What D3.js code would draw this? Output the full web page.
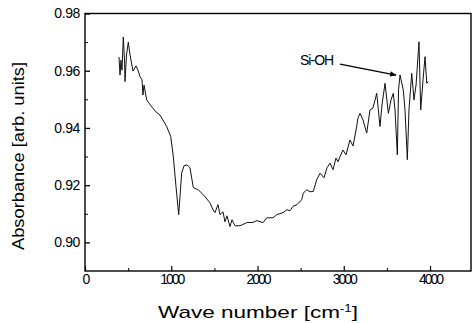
<!DOCTYPE html>
<html>
<head>
<meta charset="utf-8">
<script src="https://cdn.jsdelivr.net/npm/d3@7"></script>
<style>
  body { margin: 0; background: #fff; }
  text { font-family: Arial, "Liberation Sans", sans-serif; fill: #000; }
</style>
</head>
<body>
<svg id="chart" width="473" height="323"></svg>
<script>
// spectrum: wave number (cm-1) and absorbance
const waveNumber = [394, 406, 417, 429, 444, 458, 464, 481, 502, 522, 557, 591, 614, 638, 661, 672, 684, 715, 773, 823,
  870, 947, 994, 1024, 1055, 1086, 1121, 1148, 1183, 1217, 1256, 1314, 1391, 1449, 1484, 1507, 1542, 1565, 1600, 1623,
  1646, 1681, 1704, 1739, 1797, 1875, 1948, 1991, 2064, 2107, 2180, 2223, 2296, 2339, 2377, 2412, 2458, 2512, 2531, 2570,
  2609, 2647, 2686, 2725, 2771, 2806, 2841, 2875, 2910, 2933, 2957, 2991, 3026, 3072, 3107, 3150, 3165, 3188, 3223, 3266,
  3304, 3339, 3382, 3420, 3443, 3478, 3517, 3548, 3574, 3594, 3621, 3635, 3652, 3690, 3710, 3737, 3756, 3788, 3814, 3838,
  3872, 3892, 3919, 3942, 3962, 3980];
const absorbance = [0.9648, 0.9585, 0.9637, 0.9602, 0.9718, 0.9637, 0.9562, 0.9655, 0.9700, 0.9655, 0.9599, 0.9617, 0.9602, 0.9579, 0.9568, 0.9515, 0.9550, 0.9498, 0.9474, 0.9456,
  0.9445, 0.9405, 0.9370, 0.9300, 0.9195, 0.9097, 0.9243, 0.9268, 0.9271, 0.9261, 0.9191, 0.9184, 0.9160, 0.9138, 0.9114, 0.9104, 0.9132, 0.9097, 0.9107, 0.9072,
  0.9093, 0.9055, 0.9079, 0.9058, 0.9058, 0.9069, 0.9070, 0.9076, 0.9069, 0.9086, 0.9086, 0.9097, 0.9104, 0.9114, 0.9111, 0.9126, 0.9132, 0.9149, 0.9172, 0.9184,
  0.9177, 0.9178, 0.9219, 0.9242, 0.9226, 0.9261, 0.9277, 0.9254, 0.9295, 0.9282, 0.9300, 0.9323, 0.9306, 0.9358, 0.9337, 0.9405, 0.9435, 0.9451, 0.9428, 0.9382,
  0.9463, 0.9470, 0.9521, 0.9405, 0.9480, 0.9556, 0.9451, 0.9498, 0.9521, 0.9463, 0.9306, 0.9533, 0.9585, 0.9533, 0.9463, 0.9289, 0.9463, 0.9591, 0.9498, 0.9550,
  0.9701, 0.9463, 0.9568, 0.9649, 0.9556, 0.9562];

const xTicks = [0, 1000, 2000, 3000, 4000];
const xMinorTicks = [500, 1500, 2500, 3500];
const yTicks = [0.90, 0.92, 0.94, 0.96, 0.98];
const yMinorTicks = [0.91, 0.93, 0.95, 0.97];

// annotation: label position and arrow (data units)
const noteText = "Si-OH";
const notePos = [2493, 0.962];
const arrowFrom = [2956, 0.9623];
const arrowTo = [3606, 0.9585];

const svg = d3.select("#chart");
const plotLeft = 85, plotRight = 471, plotTop = 13.5, plotBottom = 271;

const x = d3.scaleLinear().domain([0, 4475]).range([plotLeft, plotRight]);
const y = d3.scaleLinear().domain([0.89, 0.98]).range([plotBottom, plotTop]);

// frame
svg.append("rect")
  .attr("x", plotLeft).attr("y", plotTop)
  .attr("width", plotRight - plotLeft).attr("height", plotBottom - plotTop)
  .attr("fill", "none").attr("stroke", "#000").attr("stroke-width", 1.4);

// left axis, ticks pointing inward
const yAxis = svg.append("g")
  .attr("transform", `translate(${plotLeft},0)`)
  .call(d3.axisRight(y).tickValues(yTicks).tickSize(5).tickFormat(d3.format(".2f")));
yAxis.select(".domain").remove();
yAxis.selectAll("line").attr("stroke-width", 1.3);
yAxis.selectAll("text")
  .attr("x", -5).attr("text-anchor", "end")
  .style("font-size", "14px").style("letter-spacing", "-0.4px");

svg.append("g")
  .attr("transform", `translate(${plotLeft},0)`)
  .call(d3.axisRight(y).tickValues(yMinorTicks).tickSize(3).tickFormat(""))
  .call(g => g.select(".domain").remove());

// bottom axis
const xAxis = svg.append("g")
  .attr("transform", `translate(0,${plotBottom})`)
  .call(d3.axisTop(x).tickValues(xTicks).tickSize(5).tickFormat(d3.format("d")));
xAxis.select(".domain").remove();
xAxis.selectAll("line").attr("stroke-width", 1.2);
xAxis.selectAll("text")
  .attr("y", 13).attr("dy", 0)
  .style("font-size", "14px").style("letter-spacing", "-2px");

svg.append("g")
  .attr("transform", `translate(0,${plotBottom})`)
  .call(d3.axisTop(x).tickValues(xMinorTicks).tickSize(3).tickFormat(""))
  .call(g => g.select(".domain").remove());

svg.selectAll(".tick text").attr("fill", "#000");
svg.selectAll(".tick line").attr("stroke", "#000");

// spectrum
const line = d3.line()
  .x((d, i) => x(waveNumber[i]))
  .y(d => y(d));
svg.append("path")
  .datum(absorbance)
  .attr("d", line)
  .attr("fill", "none")
  .attr("stroke", "#111")
  .attr("stroke-width", 1)
  .attr("stroke-linejoin", "round");

// annotation
svg.append("defs").append("marker")
  .attr("id", "arrow").attr("viewBox", "0 0 10 10")
  .attr("refX", 9).attr("refY", 5)
  .attr("markerWidth", 6).attr("markerHeight", 5)
  .attr("orient", "auto")
  .append("path").attr("d", "M0,1 L10,5 L0,9 Z").attr("fill", "#000");

svg.append("line")
  .attr("x1", x(arrowFrom[0])).attr("y1", y(arrowFrom[1]))
  .attr("x2", x(arrowTo[0])).attr("y2", y(arrowTo[1]))
  .attr("stroke", "#000").attr("stroke-width", 1.3)
  .attr("marker-end", "url(#arrow)");

svg.append("text")
  .attr("x", x(notePos[0])).attr("y", y(notePos[1]))
  .style("font-size", "14px").style("letter-spacing", "-1px")
  .text(noteText);

// axis titles
const xTitle = svg.append("text")
  .attr("x", 158).attr("y", 318)
  .attr("textLength", 200).attr("lengthAdjust", "spacingAndGlyphs")
  .style("font-size", "17px");
xTitle.append("tspan").text("Wave number [cm");
xTitle.append("tspan").attr("dy", -6).style("font-size", "10px").text("-1");
xTitle.append("tspan").attr("dy", 6).text("]");

svg.append("text")
  .attr("transform", "translate(24,250) rotate(-90)")
  .attr("textLength", 188).attr("lengthAdjust", "spacingAndGlyphs")
  .style("font-size", "17px")
  .text("Absorbance [arb. units]");
</script>
</body>
</html>
